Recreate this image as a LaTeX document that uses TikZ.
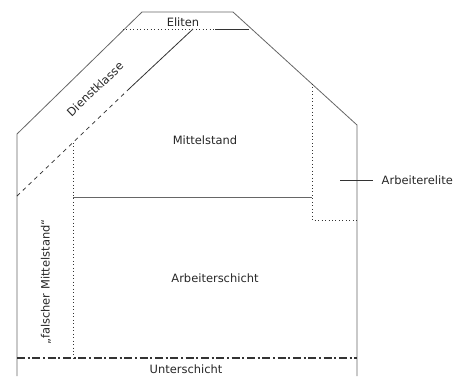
\documentclass[tikz,border=0pt]{standalone}
\usepackage{fontspec}
\setmainfont{DejaVu Sans}

\begin{document}
\begin{tikzpicture}[x=0.75pt, y=-0.75pt, line width=.6pt,
  outline/.style={draw=black!60},
  inner/.style={draw=black!80},
  lbl/.style={font=\fontsize{8.6}{10}\selectfont, text=black!85, inner sep=1pt}]

\useasboundingbox (0,0) rectangle (461,376);

% house outline
\draw[outline] (17,376) -- (17,134) -- (142,12) -- (233,12) -- (357,125) -- (357,376);

% eliten
\draw[inner, dotted] (123,29) -- (215,29);
\draw[inner] (215,29) -- (249,29);
\node[lbl] (eliten) at (183,22) {Eliten};

% dienstklasse band
\draw[inner, dashed] (17,196) -- (130,88);
\draw[inner] (130,88) -- (193,29);
\node[lbl, rotate=43.5] (dienst) at (95,89) {Dienstklasse};

% falscher mittelstand
\draw[inner, dotted] (73,143) -- (73,358);
\node[lbl, rotate=90] (falsch) at (46,282) {„falscher Mittelstand“};

% mittelstand / arbeiterschicht
\draw[outline] (73,197) -- (312,197);
\node[lbl] (mittel) at (205,140) {Mittelstand};
\node[lbl] (arbeit) at (215,278) {Arbeiterschicht};

% arbeiterelite
\draw[inner, dotted] (312,84) -- (312,220) -- (357,220);
\node[lbl, anchor=west] (elite) at (380,180) {Arbeiterelite};
\coordinate (tick) at (340,180);
\draw[inner, shorten >=5pt] (tick) -- (elite.west);

% unterschicht
\draw[inner, line width=1pt, dash pattern=on 6pt off 2pt on 1.5pt off 2pt] (17,358) -- (357,358);
\node[lbl] (unter) at (186,369) {Unterschicht};

\end{tikzpicture}
\end{document}
